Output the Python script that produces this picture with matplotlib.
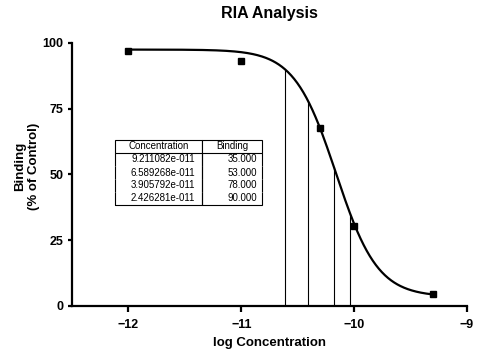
import numpy as np
import matplotlib.pyplot as plt

plt.rcParams['font.family'] = ['Liberation Sans', 'DejaVu Sans']

# measured points
log_conc = [-12.0, -11.0, -10.3, -10.0, -9.3]
binding = [97.0, 93.0, 67.5, 30.5, 4.5]

# fitted one-site competition curve
top = 97.5
bottom = 3.5
log_ic50 = -10.161
hill = 2.35

# interpolated table
table_conc = [9.211082e-11, 6.589268e-11, 3.905792e-11, 2.426281e-11]
table_binding = [35.0, 53.0, 78.0, 90.0]
table_conc_txt = ['9.211082e-011', '6.589268e-011', '3.905792e-011', '2.426281e-011']

fig = plt.figure(figsize=(4.79, 3.57), dpi=100)
ax = fig.add_axes([72 / 479, 1 - 306 / 357, 395 / 479, 263 / 357])

xs = np.linspace(min(log_conc), max(log_conc), 400)
ys = bottom + (top - bottom) / (1 + 10 ** ((xs - log_ic50) * hill))
ax.plot(xs, ys, color='black', lw=1.6)
ax.plot(log_conc, binding, 's', color='black', ms=4.3)

ax.vlines(np.log10(table_conc), 0, table_binding, color='black', lw=0.8)

ax.set_xlim(-12.5, -9)
ax.set_ylim(0, 100)
ax.set_xticks([-12, -11, -10, -9])
ax.set_yticks([0, 25, 50, 75, 100])
for s in ['top', 'right']:
    ax.spines[s].set_visible(False)
for s in ['left', 'bottom']:
    ax.spines[s].set_linewidth(1.6)
ax.tick_params(axis='x', direction='out', length=4, width=1.6, labelsize=9, pad=5)
ax.tick_params(axis='y', direction='out', length=3, width=1.6, labelsize=9, pad=3)
for lab in ax.get_xticklabels() + ax.get_yticklabels():
    lab.set_fontweight('bold')

ax.set_title('RIA Analysis', fontsize=11.5, fontweight='bold', pad=18)
ax.set_xlabel('log Concentration', fontsize=9.5, fontweight='bold', labelpad=5)
ax.set_ylabel('Binding\n(% of Control)', fontsize=9.5, fontweight='bold')
ax.yaxis.set_label_coords(-0.08, 0.53)

cells = [[c, '%.3f' % b] for c, b in zip(table_conc_txt, table_binding)]
tab = ax.table(cellText=cells, colLabels=['Concentration', 'Binding'],
               bbox=[43 / 395, (306 - 205) / 263, 147 / 395, 65 / 263],
               colWidths=[87, 60], cellLoc='right')
tab.auto_set_font_size(False)
tab.set_fontsize(7)
n = len(cells)
for (r, c), cell in tab.get_celld().items():
    cell.set_linewidth(0.8)
    cell.PAD = 0.08
    if r == 0:
        cell.visible_edges = 'closed'
        cell.get_text().set_ha('center')
        cell._loc = 'center'
    elif r == n:
        cell.visible_edges = 'BLR'
    else:
        cell.visible_edges = 'LR'

fig.savefig('out.png', dpi=100)
